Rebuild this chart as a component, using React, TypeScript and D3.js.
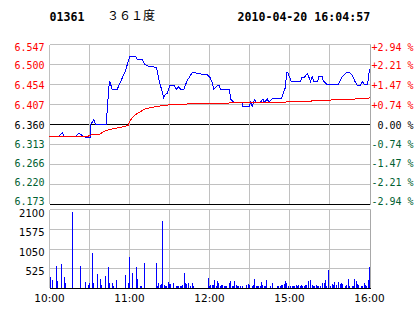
import React, { useLayoutEffect } from 'react';
import * as d3 from 'd3';

// ---- header ----
const STOCK_CODE = '01361';
const STOCK_NAME = '３６１度';
const TIMESTAMP = '2010-04-20 16:04:57';

// ---- axes ----
const PREV_CLOSE = 6.36;
const PRICE_TICKS = [6.547, 6.5, 6.454, 6.407, 6.36, 6.313, 6.266, 6.22, 6.173];
const PCT_TICKS = ['+2.94', '+2.21', '+1.47', '+0.74', '0.00', '-0.74', '-1.47', '-2.21', '-2.94'];
const VOL_TICKS = [2100, 1575, 1050, 525];
const TIME_LABELS = ['10:00', '11:00', '12:00', '15:00', '16:00'];
const TIME_LABEL_MIN = [0, 60, 120, 180, 240]; // trading minutes since 10:00 (lunch removed)
const GRID_MIN = [0, 30, 60, 90, 120, 150, 180, 210];

// ---- price line (trading minute, price) ----
const PRICE_MIN = [
  0, 7, 9.5, 11.25, 19.5, 22, 25.5, 27, 30.75, 31, 33.2, 34.5, 42.5, 44.5, 45.2, 47, 50.75, 57, 60.2, 64.5,
  65.75, 69.5, 71.5, 74.25, 79.5, 80.25, 81.2, 82.5, 84, 85.7, 86.5, 88.3, 90.2, 93.75, 95, 97, 98.25, 100.7, 102, 103.3,
  105.2, 107, 109.5, 110.25, 113.25, 114, 118.3, 120.2, 122, 123.2, 125.8, 127.5, 128.25, 135, 135.75, 138.2, 144.5, 145.1, 150, 150.75,
  152, 153.75, 155, 158.25, 160, 161.25, 163.3, 164.5, 167, 174, 175.25, 177, 177.75, 178.7, 181.3, 188.25, 189.5, 191.25, 193.3, 194.5,
  195.75, 197, 198.2, 201.25, 202, 204.5, 205.25, 208.25, 216.5, 217.5, 219.5, 222.75, 225.25, 227, 228.75, 230.75, 233.25, 234.5, 236.25, 238.25,
  238.75, 240,
];
const PRICE_VAL = [
  6.332, 6.332, 6.341, 6.332, 6.332, 6.34, 6.332, 6.33, 6.33, 6.36, 6.371, 6.36, 6.36, 6.447, 6.461, 6.442, 6.442, 6.486, 6.52, 6.52,
  6.513, 6.513, 6.5, 6.496, 6.494, 6.493, 6.479, 6.458, 6.443, 6.422, 6.429, 6.433, 6.45, 6.45, 6.442, 6.449, 6.442, 6.442, 6.453, 6.463,
  6.472, 6.481, 6.481, 6.479, 6.479, 6.476, 6.476, 6.471, 6.459, 6.443, 6.451, 6.451, 6.441, 6.441, 6.42, 6.412, 6.412, 6.402, 6.402, 6.412,
  6.402, 6.418, 6.411, 6.412, 6.419, 6.412, 6.42, 6.412, 6.42, 6.42, 6.432, 6.447, 6.481, 6.481, 6.461, 6.461, 6.471, 6.471, 6.479, 6.471,
  6.461, 6.472, 6.461, 6.461, 6.472, 6.472, 6.463, 6.453, 6.453, 6.459, 6.471, 6.481, 6.481, 6.475, 6.463, 6.451, 6.451, 6.461, 6.453, 6.453,
  6.459, 6.49,
];

// ---- average price line ----
const AVG_MIN = [
  0, 7.5, 29.25, 31.5, 34.5, 38.25, 40.5, 45.75, 51, 57, 59.25, 60, 63, 66, 69.75, 72, 77.25, 79.5, 85.5, 90,
  90.75, 102.75, 103.5, 120, 120.75, 177, 177.75, 195.75, 196.5, 210.75, 211.5, 228.75, 229.5, 239.25, 240,
];
const AVG_VAL = [
  6.332, 6.333, 6.333, 6.336, 6.336, 6.338, 6.344, 6.349, 6.352, 6.356, 6.358, 6.367, 6.379, 6.386, 6.393, 6.397, 6.4, 6.402, 6.404, 6.406,
  6.407, 6.407, 6.409, 6.409, 6.41, 6.411, 6.413, 6.413, 6.415, 6.415, 6.418, 6.418, 6.421, 6.421, 6.424,
];

// ---- volume bars (trading minute, volume) ----
const VOL_MIN = [
  1, 2, 5, 6, 9, 11, 12, 17, 23, 27, 29, 30, 32, 33, 36, 38, 39, 42, 44, 45,
  47, 48, 50, 57, 59, 60, 62, 65, 66, 68, 69, 71, 80, 81, 82, 83, 84, 85, 86, 87,
  88, 89, 90, 91, 93, 95, 96, 97, 98, 99, 100, 101, 102, 103, 104, 106, 107, 108, 119, 120,
  121, 122, 123, 124, 125, 126, 127, 128, 129, 130, 131, 132, 133, 135, 136, 137, 138, 139, 140, 141,
  142, 143, 145, 148, 149, 150, 152, 153, 154, 155, 156, 157, 158, 159, 160, 161, 162, 163, 166, 167,
  171, 172, 173, 174, 175, 176, 177, 178, 179, 181, 182, 183, 184, 185, 186, 187, 188, 189, 190, 191,
  192, 193, 194, 196, 197, 198, 199, 200, 201, 202, 203, 205, 206, 207, 208, 209, 211, 212, 213, 214,
  215, 217, 218, 219, 220, 222, 223, 224, 225, 227, 228, 229, 230, 231, 232, 234, 235, 236, 237, 238,
  239, 240,
];
const VOL_VAL = [
  315, 225, 600, 200, 650, 315, 145, 2040, 600, 170, 95, 145, 945, 145, 385, 250, 95, 330, 570, 145,
  145, 65, 225, 360, 145, 840, 410, 570, 250, 65, 65, 680, 680, 65, 145, 95, 120, 1800, 95, 65,
  65, 170, 120, 120, 145, 65, 65, 65, 65, 65, 95, 410, 145, 120, 145, 65, 145, 65, 280, 65,
  95, 95, 95, 225, 65, 200, 145, 65, 95, 95, 65, 65, 65, 145, 200, 65, 65, 200, 95, 65,
  65, 65, 65, 95, 120, 95, 65, 95, 250, 65, 65, 65, 65, 170, 95, 65, 65, 225, 65, 145,
  65, 65, 65, 95, 95, 120, 200, 145, 65, 65, 65, 65, 65, 95, 65, 95, 65, 95, 65, 65,
  95, 95, 200, 225, 95, 65, 65, 95, 65, 65, 65, 145, 145, 225, 65, 490, 65, 120, 95, 170,
  95, 170, 120, 145, 120, 65, 95, 250, 65, 65, 65, 250, 200, 120, 95, 65, 65, 145, 95, 65,
  225, 570,
];

const MONO = '"DejaVu Sans Mono", monospace';
const SANS = '"DejaVu Sans", sans-serif';
const RED = '#ff0000';
const GREEN = '#006030';
const GRID = '#c0c0c0';

export default function App() {
  useLayoutEffect(() => {
    document.body.style.margin = '0';
    document.body.style.background = '#ffffff';
  }, []);

  const x = d3.scaleLinear().domain([0, 240]).range([49.5, 369.5]);
  const yP = d3.scaleLinear().domain([6.173, 6.547]).range([204.5, 44.5]);
  const yV = d3.scaleLinear().domain([0, 2100]).range([288.5, 209.5]);
  const snap = (v: number) => Math.round(v - 0.5) + 0.5;

  const L = 49.5;
  const R = 370.5;

  const priceLine = d3
    .line<number>()
    .x((_, i) => x(PRICE_MIN[i]))
    .y((d) => yP(d));
  const avgLine = d3
    .line<number>()
    .x((_, i) => x(AVG_MIN[i]))
    .y((d) => yP(d));

  const labelY = (i: number) => {
    const g = snap(yP(PRICE_TICKS[i]));
    if (i === 0) return g + 2.5;
    return g + 1 - Math.max(0, i - 4) * 0.9;
  };
  const colorFor = (t: number) => (Math.abs(t - PREV_CLOSE) < 1e-9 ? '#000000' : t > PREV_CLOSE ? RED : GREEN);

  return (
    <svg width={414} height={314} style={{ display: 'block', background: '#fff' }}>
      {/* header */}
      <text x={49.5} y={21} fontFamily={MONO} fontWeight="bold" fontSize={11.6} fill="#000">
        {STOCK_CODE}
      </text>
      <text x={107} y={20} fontFamily='"Noto Sans CJK SC", sans-serif' fontSize={12} fill="#000">
        {STOCK_NAME}
      </text>
      <text x={237.5} y={21} fontFamily={MONO} fontWeight="bold" fontSize={11.6} fill="#000">
        {TIMESTAMP}
      </text>

      {/* price panel grid */}
      <g shapeRendering="crispEdges">
        {PRICE_TICKS.map((t, i) => {
          const y = snap(yP(t));
          const black = i === 4 || i === PRICE_TICKS.length - 1;
          return <line key={'h' + i} x1={L} x2={R} y1={y} y2={y} stroke={black ? '#000' : GRID} strokeWidth={1} />;
        })}
        {GRID_MIN.map((m, i) => (
          <line key={'v' + i} x1={x(m)} x2={x(m)} y1={44.5} y2={i === 0 ? 204 : 204} stroke={GRID} strokeWidth={1} />
        ))}
        <line x1={R} x2={R} y1={44.5} y2={204.5} stroke="#a8a8a8" strokeWidth={1} />
      </g>

      {/* price labels */}
      {PRICE_TICKS.map((t, i) => (
        <text
          key={'pl' + i}
          x={44.5}
          y={labelY(i)}
          textAnchor="end"
          dominantBaseline="central"
          fontFamily={MONO}
          fontSize={10}
          fill={colorFor(t)}
        >
          {t.toFixed(3)}
        </text>
      ))}
      {PCT_TICKS.map((p, i) => {
        const t = PRICE_TICKS[i];
        return (
          <text
            key={'pr' + i}
            x={371.5}
            y={labelY(i)}
            dominantBaseline="central"
            fontFamily={MONO}
            fontSize={10}
            fill={colorFor(t)}
            xmlSpace="preserve"
            style={{ whiteSpace: 'pre' }}
          >
            {(p.startsWith('+') || p.startsWith('-') ? p : ' ' + p) + ' %'}
          </text>
        );
      })}

      {/* lines */}
      <path d={priceLine(PRICE_VAL) || ''} fill="none" stroke="#0000ff" strokeWidth={1} shapeRendering="crispEdges" />
      <path d={avgLine(AVG_VAL) || ''} fill="none" stroke="#ff0000" strokeWidth={1} shapeRendering="crispEdges" />

      {/* volume panel grid */}
      <g shapeRendering="crispEdges">
        {VOL_TICKS.map((t, i) => {
          const y = snap(yV(t));
          return <line key={'vh' + i} x1={L} x2={R} y1={y} y2={y} stroke={GRID} strokeWidth={1} />;
        })}
        {GRID_MIN.map((m, i) => (
          <line key={'vv' + i} x1={x(m)} x2={x(m)} y1={209.5} y2={288} stroke={GRID} strokeWidth={1} />
        ))}
        <line x1={R} x2={R} y1={209.5} y2={288.5} stroke="#a8a8a8" strokeWidth={1} />
        {VOL_VAL.map((v, i) => {
          const col = Math.round(x(VOL_MIN[i]) - 0.5);
          const top = Math.round(yV(v));
          return <rect key={'b' + i} x={col} y={top} width={1} height={288 - top} fill="#0000ff" />;
        })}
        <line x1={L} x2={R} y1={288.5} y2={288.5} stroke="#000" strokeWidth={1} />
      </g>

      {/* volume labels */}
      {VOL_TICKS.map((t, i) => (
        <text
          key={'vl' + i}
          x={44.5}
          y={snap(yV(t)) + (i === 0 ? 4 : 2.5)}
          textAnchor="end"
          dominantBaseline="central"
          fontFamily={SANS}
          fontSize={10}
          fill="#000"
        >
          {t}
        </text>
      ))}

      {/* time labels */}
      {TIME_LABELS.map((s, i) => (
        <text
          key={'t' + i}
          x={x(TIME_LABEL_MIN[i])}
          y={298}
          textAnchor="middle"
          dominantBaseline="central"
          fontFamily={SANS}
          fontSize={10.5}
          fill="#000"
        >
          {s}
        </text>
      ))}
    </svg>
  );
}
